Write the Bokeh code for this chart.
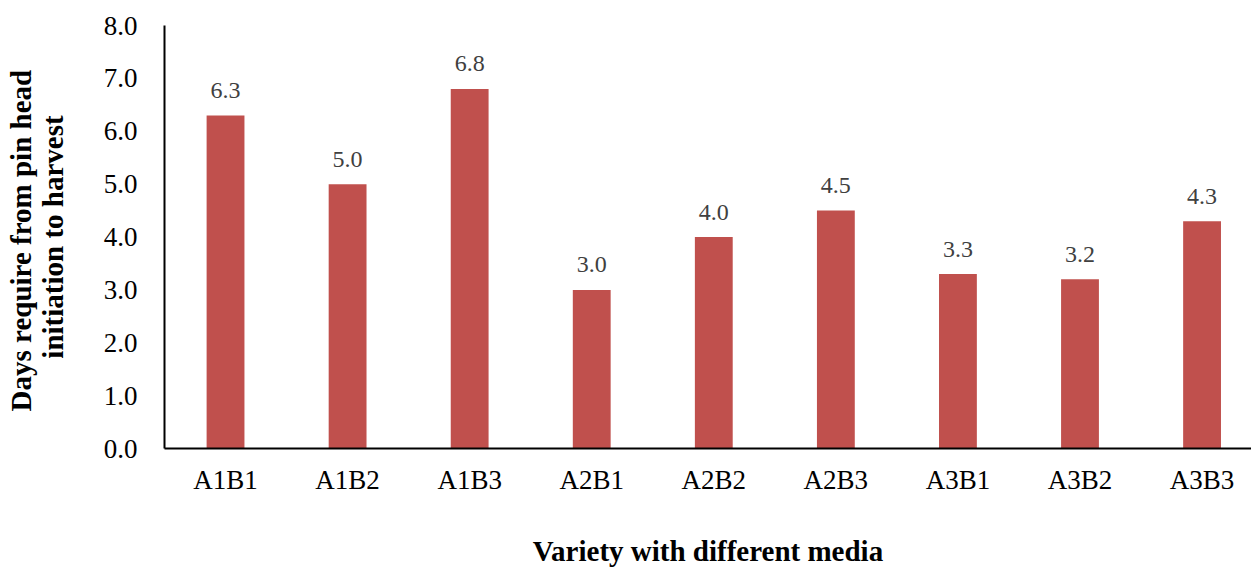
from bokeh.plotting import figure
from bokeh.models import ColumnDataSource, FixedTicker, Range1d
from bokeh.core.properties import value
from bokeh.embed import file_html
from bokeh.resources import INLINE

# Treatment combinations (variety x growing media) and days from pin head
# initiation to harvest
categories = ["A1B1", "A1B2", "A1B3", "A2B1", "A2B2", "A2B3", "A3B1", "A3B2", "A3B3"]
days = [6.3, 5.0, 6.8, 3.0, 4.0, 4.5, 3.3, 3.2, 4.3]
y_ticks = [0, 1, 2, 3, 4, 5, 6, 7, 8]

FONT = "Liberation Serif"
BAR_COLOR = "#C0504D"

positions = list(range(len(categories)))
source = ColumnDataSource(dict(
    x=positions,
    days=days,
    label=[f"{d:.1f}" for d in days],
))

p = figure(
    width=1251, height=569,
    output_backend="svg", toolbar_location=None,
    x_range=Range1d(-0.5, 8.405), y_range=Range1d(0, 8),
    min_border_left=164, min_border_right=0,
    min_border_top=25, min_border_bottom=121,
)
p.outline_line_color = None
p.background_fill_color = "white"
p.border_fill_color = "white"
p.xgrid.grid_line_color = None
p.ygrid.grid_line_color = None

p.vbar(x="x", top="days", width=0.31, source=source,
       fill_color=BAR_COLOR, line_color=None)

p.text(x="x", y="days", text="label", source=source,
       text_font=value(FONT), text_font_size="24px", text_color="#404040",
       text_align="center", text_baseline="alphabetic", y_offset=-25)

# axes
for ax in (p.xaxis[0], p.yaxis[0]):
    ax.axis_line_color = "black"
    ax.axis_line_width = 2
    ax.major_tick_line_color = None
    ax.minor_tick_line_color = None
    ax.major_tick_in = 0
    ax.major_tick_out = 0
    ax.minor_tick_in = 0
    ax.minor_tick_out = 0
    ax.major_label_text_font = FONT
    ax.major_label_text_font_size = "27px"
    ax.major_label_text_color = "black"
    ax.axis_label_text_font = FONT
    ax.axis_label_text_font_size = "29px"
    ax.axis_label_text_font_style = "bold"
    ax.axis_label_text_color = "black"

p.xaxis.ticker = FixedTicker(ticks=positions)
p.xaxis.major_label_overrides = {i: c for i, c in enumerate(categories)}
p.xaxis.major_label_standoff = 16
p.xaxis.axis_label = "Variety with different media"
p.xaxis.axis_label_standoff = 37

p.yaxis.ticker = FixedTicker(ticks=y_ticks)
p.yaxis.major_label_overrides = {t: f"{t:.1f}" for t in y_ticks}
p.yaxis.major_label_standoff = 27
p.yaxis.axis_label = "Days  require from pin head\ninitiation to harvest"
p.yaxis.axis_label_standoff = 32
p.yaxis.axis_label_text_line_height = 1.0

open("out.html", "w").write(file_html(p, INLINE))
